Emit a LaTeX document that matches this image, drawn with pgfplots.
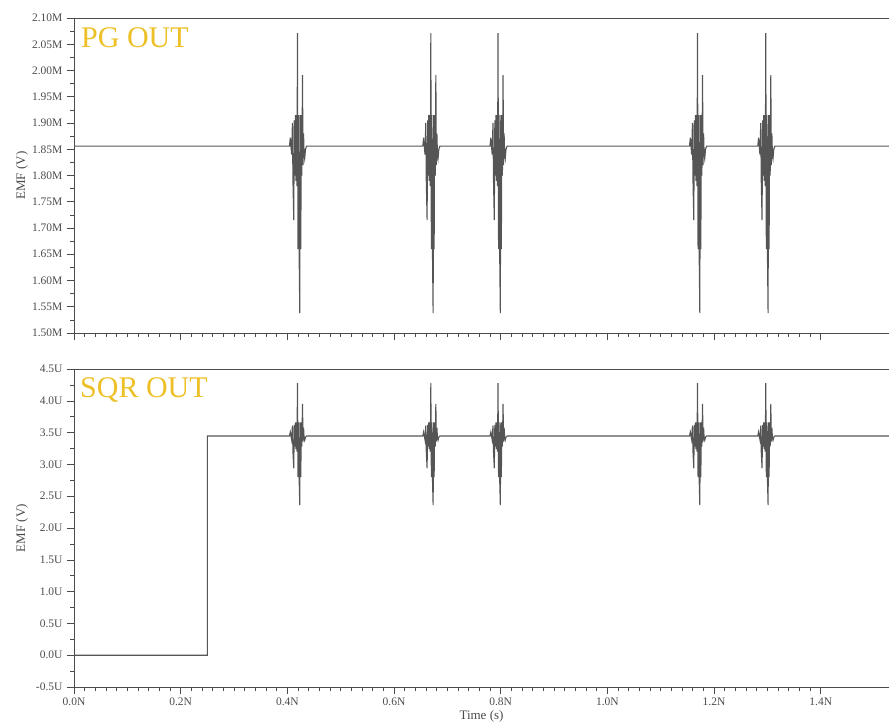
\documentclass[border=0pt]{standalone}
\usepackage{pgfplots}
\pgfplotsset{compat=1.18}
\usepackage{pgfplotstable}
\usepackage{fontspec}
\setmainfont{Liberation Serif}
\definecolor{gold}{RGB}{238,192,40}
\definecolor{axgray}{RGB}{75,75,75}
\definecolor{sig}{RGB}{85,85,85}

\pgfplotstableread{
t top bot
0 1.856 0
0.25 1.856 0
0.25 1.856 3.447
0.404 1.856 3.447
0.4055 1.872 3.51
0.4068 1.856 3.447
0.408 1.840 3.39
0.4095 1.900 3.61
0.4105 1.790 3.20
0.412 1.715 2.94
0.413 1.905 3.62
0.414 1.800 3.28
0.415 1.915 3.66
0.416 1.790 3.24
0.417 1.915 3.66
0.418 1.780 3.20
0.419 2.071 4.28
0.420 1.660 2.80
0.421 1.915 3.66
0.422 1.660 2.80
0.4233 1.538 2.36
0.4242 1.915 3.66
0.4252 1.660 2.80
0.4262 1.915 3.66
0.4272 1.800 3.28
0.4284 1.991 3.95
0.4294 1.820 3.36
0.4304 1.880 3.58
0.4314 1.840 3.42
0.4325 1.832 3.38
0.434 1.850 3.43
0.436 1.856 3.447
0.654 1.856 3.447
0.6555 1.872 3.51
0.6568 1.856 3.447
0.658 1.840 3.39
0.6595 1.900 3.61
0.6605 1.790 3.20
0.662 1.715 2.94
0.663 1.905 3.62
0.664 1.800 3.28
0.665 1.915 3.66
0.666 1.790 3.24
0.667 1.915 3.66
0.668 1.780 3.20
0.669 2.071 4.28
0.670 1.660 2.80
0.671 1.915 3.66
0.672 1.660 2.80
0.6733 1.538 2.36
0.6742 1.915 3.66
0.6752 1.660 2.80
0.6762 1.915 3.66
0.6772 1.800 3.28
0.6784 1.991 3.95
0.6794 1.820 3.36
0.6804 1.880 3.58
0.6814 1.840 3.42
0.6825 1.832 3.38
0.684 1.850 3.43
0.686 1.856 3.447
0.780 1.856 3.447
0.7815 1.872 3.51
0.7828 1.856 3.447
0.784 1.840 3.39
0.7855 1.900 3.61
0.7865 1.790 3.20
0.788 1.715 2.94
0.789 1.905 3.62
0.790 1.800 3.28
0.791 1.915 3.66
0.792 1.790 3.24
0.793 1.915 3.66
0.794 1.780 3.20
0.795 2.071 4.28
0.796 1.660 2.80
0.797 1.915 3.66
0.798 1.660 2.80
0.7993 1.538 2.36
0.8002 1.915 3.66
0.8012 1.660 2.80
0.8022 1.915 3.66
0.8032 1.800 3.28
0.8044 1.991 3.95
0.8054 1.820 3.36
0.8064 1.880 3.58
0.8074 1.840 3.42
0.8085 1.832 3.38
0.810 1.850 3.43
0.812 1.856 3.447
1.154 1.856 3.447
1.1555 1.872 3.51
1.1568 1.856 3.447
1.158 1.840 3.39
1.1595 1.900 3.61
1.1605 1.790 3.20
1.162 1.715 2.94
1.163 1.905 3.62
1.164 1.800 3.28
1.165 1.915 3.66
1.166 1.790 3.24
1.167 1.915 3.66
1.168 1.780 3.20
1.169 2.071 4.28
1.170 1.660 2.80
1.171 1.915 3.66
1.172 1.660 2.80
1.1733 1.538 2.36
1.1742 1.915 3.66
1.1752 1.660 2.80
1.1762 1.915 3.66
1.1772 1.800 3.28
1.1784 1.991 3.95
1.1794 1.820 3.36
1.1804 1.880 3.58
1.1814 1.840 3.42
1.1825 1.832 3.38
1.184 1.850 3.43
1.186 1.856 3.447
1.282 1.856 3.447
1.2835 1.872 3.51
1.2848 1.856 3.447
1.286 1.840 3.39
1.2875 1.900 3.61
1.2885 1.790 3.20
1.290 1.715 2.94
1.291 1.905 3.62
1.292 1.800 3.28
1.293 1.915 3.66
1.294 1.790 3.24
1.295 1.915 3.66
1.296 1.780 3.20
1.297 2.071 4.28
1.298 1.660 2.80
1.299 1.915 3.66
1.300 1.660 2.80
1.3013 1.538 2.36
1.3022 1.915 3.66
1.3032 1.660 2.80
1.3042 1.915 3.66
1.3052 1.800 3.28
1.3064 1.991 3.95
1.3074 1.820 3.36
1.3084 1.880 3.58
1.3094 1.840 3.42
1.3105 1.832 3.38
1.312 1.850 3.43
1.314 1.856 3.447
1.53 1.856 3.447
}\datatab

\pgfplotsset{
  common/.style={
    scale only axis,
    width=815pt,
    xmin=0, xmax=1.528,
    axis line style={axgray, line width=0.9pt},
    tick style={axgray, line width=0.6pt},
    tick align=outside,
    major tick length=7pt,
    minor tick length=4pt,
    xtick={0,0.2,0.4,0.6,0.8,1.0,1.2,1.4},
    minor x tick num=9,
    minor y tick num=1,
    xtick pos=bottom,
    ytick pos=left,
    ticklabel style={font=\fontsize{11.5}{13}\selectfont, text=axgray},
    yticklabel style={xshift=-1pt},
    ylabel style={at={([xshift=-52pt]rel axis cs:0,0.5)}, anchor=center, rotate=0, font=\fontsize{13}{15}\selectfont, text=axgray},
    clip=true,
  }
}

\begin{document}
\begin{tikzpicture}[x=1pt,y=1pt]
\path[use as bounding box] (0,0) rectangle (889,-724);
\begin{axis}[common,
  at={(74pt,-333pt)}, anchor=south west,
  height=315pt,
  ymin=1.5, ymax=2.1,
  ytick={1.50,1.55,1.60,1.65,1.70,1.75,1.80,1.85,1.90,1.95,2.00,2.05,2.10},
  yticklabels={1.50M,1.55M,1.60M,1.65M,1.70M,1.75M,1.80M,1.85M,1.90M,1.95M,2.00M,2.05M,2.10M},
  xticklabels={},
  ylabel={EMF (V)},
]
\addplot[sig, line width=1.1pt] table[x=t, y=top] {\datatab};
\node[anchor=north west, inner sep=0pt, text=gold, font=\fontsize{30}{32}\selectfont] at ([xshift=7pt,yshift=-9pt]rel axis cs:0,1) {PG OUT};
\end{axis}
\begin{axis}[common,
  at={(74pt,-687pt)}, anchor=south west,
  height=318pt,
  ymin=-0.5, ymax=4.5,
  ytick={-0.5,0,0.5,1,1.5,2,2.5,3,3.5,4,4.5},
  yticklabels={-0.5U,0.0U,0.5U,1.0U,1.5U,2.0U,2.5U,3.0U,3.5U,4.0U,4.5U},
  xticklabels={0.0N,0.2N,0.4N,0.6N,0.8N,1.0N,1.2N,1.4N},
  ylabel={EMF (V)},
  xlabel={Time (s)},
  xlabel style={at={([yshift=-29pt]rel axis cs:0.5,0)}, anchor=center, font=\fontsize{13}{15}\selectfont, text=axgray},
]
\addplot[sig, line width=1.1pt] table[x=t, y=bot] {\datatab};
\node[anchor=north west, inner sep=0pt, text=gold, font=\fontsize{30}{32}\selectfont] at ([xshift=6pt,yshift=-8pt]rel axis cs:0,1) {SQR OUT};
\end{axis}
\end{tikzpicture}
\end{document}
